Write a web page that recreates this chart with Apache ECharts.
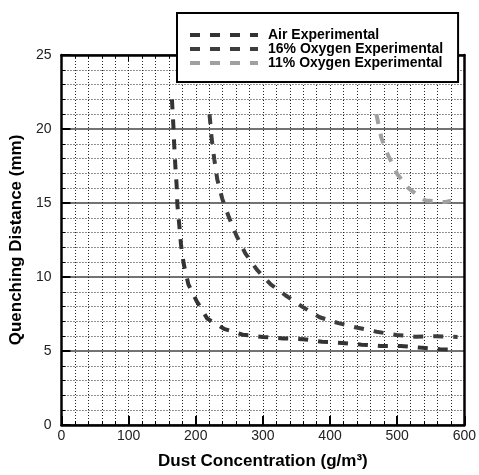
<!DOCTYPE html>
<html>
<head>
<meta charset="utf-8">
<script src="https://cdn.jsdelivr.net/npm/echarts@6/dist/echarts.min.js"></script>
<style>html,body{margin:0;padding:0;background:#fff}#c{width:479px;height:475px}</style>
</head>
<body>
<div id="c"></div>
<script>
const seriesNames = ['Air Experimental', '16% Oxygen Experimental', '11% Oxygen Experimental'];
const airX = [164.5, 166.7, 168, 169.6, 171.5, 172.6, 175.5, 178, 182, 189, 201, 217, 242, 270, 300, 330, 360, 388, 418, 447, 475, 505, 534, 564, 590];
const airY = [22.0, 20.2, 18.85, 17.5, 16.2, 14.9, 13.5, 12.2, 10.9, 9.5, 8.4, 7.2, 6.5, 6.1, 5.95, 5.85, 5.8, 5.63, 5.54, 5.43, 5.34, 5.34, 5.23, 5.12, 5.07];
const o16X = [220.5, 223.7, 227.6, 232, 239.4, 249.3, 260.6, 273.8, 291, 311.7, 334, 358.4, 384.5, 412.5, 441, 469.5, 499, 527, 556.5, 590];
const o16Y = [21.0, 19.35, 17.96, 16.6, 15.3, 14.05, 12.8, 11.6, 10.5, 9.5, 8.75, 8.0, 7.28, 6.88, 6.57, 6.3, 6.08, 5.97, 6.0, 5.95];
const o11X = [469, 476.4, 486.7, 500, 518, 541.7, 571, 580];
const o11Y = [21.0, 19.4, 18.2, 16.96, 15.95, 15.17, 15.06, 15.15];
const xTicks = [0, 100, 200, 300, 400, 500, 600];
const yTicks = [0, 5, 10, 15, 20, 25];

const FONT = 'Liberation Sans, Arial, sans-serif';
const pairs = (xs, ys) => xs.map((x, i) => [x, ys[i]]);
const colors = ['#333333', '#3d3d3d', '#a0a0a0'];
const dotted = { type: [1, 2], color: '#222', width: 1 };
const dashIcon = 'path://M0,0h10v4h-10z M20,0h10v4h-10z M40,0h10v4h-10z M60,0h8v4h-8z';

function mkSeries(name, data, color) {
  return {
    name, type: 'line', data, symbol: 'none', smooth: false,
    lineStyle: { color, width: 4, type: [10, 10] },
    itemStyle: { color },
    z: 5
  };
}

const chart = echarts.init(document.getElementById('c'), null, { renderer: 'canvas' });
chart.setOption({
  animation: false,
  backgroundColor: '#fff',
  grid: { left: 61, right: 12, top: 55, bottom: 47 },
  legend: {
    orient: 'vertical', left: 177, top: 13,
    data: seriesNames.map(n => ({ name: n, icon: dashIcon })),
    itemWidth: 68, itemHeight: 4, itemGap: 0,
    padding: [15, 15, 12, 13],
    backgroundColor: '#fff', borderColor: '#000', borderWidth: 2, borderRadius: 0,
    textStyle: { fontFamily: FONT, fontSize: 14, fontWeight: 'bold', color: '#000', lineHeight: 14, padding: [0, 0, 0, 5] },
    z: 20
  },
  xAxis: [{
    type: 'value', min: 0, max: 600, interval: 100,
    name: 'Dust Concentration (g/m³)', nameLocation: 'middle', nameGap: 28,
    nameTextStyle: { fontFamily: FONT, fontSize: 17, fontWeight: 'bold', color: '#000' },
    axisLine: { show: true, onZero: false, lineStyle: { color: '#000', width: 2.5 } },
    axisTick: { show: true, inside: true, length: 9, lineStyle: { color: '#000', width: 2 } },
    minorTick: { show: true, splitNumber: 5, length: 4, lineStyle: { color: '#000', width: 1 } },
    axisLabel: { fontFamily: FONT, fontSize: 14, color: '#222', margin: 4,
      formatter: v => xTicks.includes(v) ? String(v) : '' },
    splitLine: { show: true, lineStyle: dotted },
    minorSplitLine: { show: true, lineStyle: dotted }
  }, {
    type: 'value', min: 0, max: 600, interval: 100, position: 'top',
    axisLine: { show: true, onZero: false, lineStyle: { color: '#000', width: 2.5 } },
    axisTick: { show: true, inside: true, length: 6, lineStyle: { color: '#000', width: 1 } },
    minorTick: { show: true, splitNumber: 5, length: 3, lineStyle: { color: '#000', width: 1 } },
    axisLabel: { show: false }, splitLine: { show: false }
  }],
  yAxis: [{
    type: 'value', min: 0, max: 25, interval: 5,
    name: 'Quenching Distance (mm)', nameLocation: 'middle', nameGap: 35,
    nameTextStyle: { fontFamily: FONT, fontSize: 17, fontWeight: 'bold', color: '#000' },
    axisLine: { show: true, onZero: false, lineStyle: { color: '#000', width: 2.5 } },
    axisTick: { show: true, inside: true, length: 9, lineStyle: { color: '#000', width: 2 } },
    minorTick: { show: true, splitNumber: 5, length: 4, lineStyle: { color: '#000', width: 1 } },
    axisLabel: { fontFamily: FONT, fontSize: 14, color: '#222', margin: 10,
      formatter: v => yTicks.includes(v) ? String(v) : '' },
    splitLine: { show: true, lineStyle: { type: 'solid', color: '#444', width: 1.5 } },
    minorSplitLine: { show: true, lineStyle: dotted }
  }, {
    type: 'value', min: 0, max: 25, interval: 5, position: 'right',
    axisLine: { show: true, onZero: false, lineStyle: { color: '#000', width: 2.5 } },
    axisTick: { show: false }, axisLabel: { show: false }, splitLine: { show: false }
  }],
  series: [
    mkSeries(seriesNames[0], pairs(airX, airY), colors[0]),
    mkSeries(seriesNames[1], pairs(o16X, o16Y), colors[1]),
    mkSeries(seriesNames[2], pairs(o11X, o11Y), colors[2])
  ]
});
</script>
</body>
</html>
